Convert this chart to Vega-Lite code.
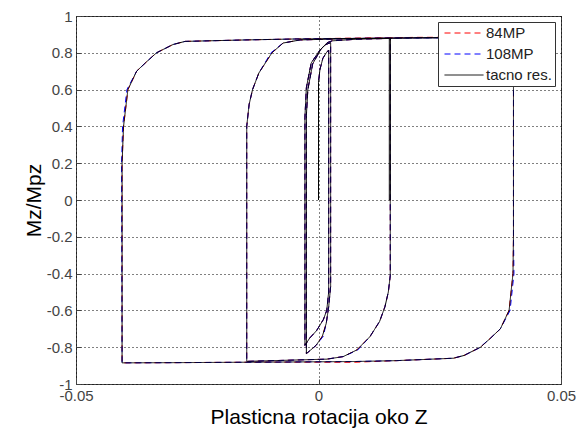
{
"$schema":"https://vega.github.io/schema/vega-lite/v6.json",
"width":485,"height":368,
"autosize":"none",
"padding":{"left":76,"top":16,"right":16,"bottom":44},
"background":"white",
"config":{
 "font":"Liberation Sans",
 "view":{"stroke":"#444","strokeWidth":1},
 "axis":{"labelFont":"Liberation Sans","labelFontSize":15,"labelColor":"#444","titleFont":"Liberation Sans","titleFontSize":21,"titleFontWeight":"normal","titleColor":"#000","domain":false,"tickColor":"#444","tickSize":-5,"grid":true,"gridColor":"#000","gridDash":[1,3],"gridOpacity":1,"gridWidth":1,"labelFlush":false,"labelOverlap":false},
 "legend":{"orient":"top-right","offset":6,"fillColor":"white","strokeColor":"#333","padding":3,"symbolType":"M-2.6,0H2.6","symbolSize":225,"symbolOffset":15,"symbolStrokeWidth":1,"labelFont":"Liberation Sans","labelFontSize":15,"labelColor":"#222","rowPadding":5,"labelOffset":14}
},
"data":{"values":[
{"s":"tacno res.","i":1,"x":0,"y":0},{"s":"tacno res.","i":2,"x":0,"y":0.64},{"s":"tacno res.","i":3,"x":0.0003,"y":0.71},{"s":"tacno res.","i":4,"x":0.0009,"y":0.77},{"s":"tacno res.","i":5,"x":0.0016,"y":0.8},{"s":"tacno res.","i":6,"x":0.0021,"y":0.815},{"s":"tacno res.","i":7,"x":0.0021,"y":-0.5},{"s":"tacno res.","i":8,"x":0.0017,"y":-0.6},{"s":"tacno res.","i":9,"x":0.001,"y":-0.65},{"s":"tacno res.","i":10,"x":-0.0004,"y":-0.71},{"s":"tacno res.","i":11,"x":-0.0018,"y":-0.75},{"s":"tacno res.","i":12,"x":-0.0028,"y":-0.79},{"s":"tacno res.","i":13,"x":-0.0028,"y":0.45},{"s":"tacno res.","i":14,"x":-0.0025,"y":0.61},{"s":"tacno res.","i":15,"x":-0.0015,"y":0.745},{"s":"tacno res.","i":16,"x":0.0003,"y":0.815},{"s":"tacno res.","i":17,"x":0.0015,"y":0.845},{"s":"tacno res.","i":18,"x":0.0025,"y":0.855},{"s":"tacno res.","i":19,"x":0.0025,"y":-0.47},{"s":"tacno res.","i":20,"x":0.0021,"y":-0.58},{"s":"tacno res.","i":21,"x":0.0016,"y":-0.67},{"s":"tacno res.","i":22,"x":0.0008,"y":-0.74},{"s":"tacno res.","i":23,"x":-0.0005,"y":-0.79},{"s":"tacno res.","i":24,"x":-0.0016,"y":-0.815},{"s":"tacno res.","i":25,"x":-0.0025,"y":-0.835},{"s":"tacno res.","i":26,"x":-0.0025,"y":0.46},{"s":"tacno res.","i":27,"x":-0.0022,"y":0.6},{"s":"tacno res.","i":28,"x":-0.0012,"y":0.74},{"s":"tacno res.","i":29,"x":0.0005,"y":0.82},{"s":"tacno res.","i":30,"x":0.0018,"y":0.855},{"s":"tacno res.","i":31,"x":0.0028,"y":0.865},{"s":"tacno res.","i":32,"x":0.008,"y":0.874},{"s":"tacno res.","i":33,"x":0.0146,"y":0.878},{"s":"tacno res.","i":34,"x":0.0146,"y":0},{"s":"tacno res.","i":35,"x":0.0148,"y":0},{"s":"tacno res.","i":36,"x":0.0148,"y":0.878},{"s":"tacno res.","i":37,"x":0.0148,"y":-0.41},{"s":"tacno res.","i":38,"x":0.0144,"y":-0.5},{"s":"tacno res.","i":39,"x":0.0137,"y":-0.58},{"s":"tacno res.","i":40,"x":0.0126,"y":-0.66},{"s":"tacno res.","i":41,"x":0.0106,"y":-0.743},{"s":"tacno res.","i":42,"x":0.0079,"y":-0.815},{"s":"tacno res.","i":43,"x":0.0051,"y":-0.851},{"s":"tacno res.","i":44,"x":0.0017,"y":-0.865},{"s":"tacno res.","i":45,"x":-0.0024,"y":-0.868},{"s":"tacno res.","i":46,"x":-0.0079,"y":-0.872},{"s":"tacno res.","i":47,"x":-0.0148,"y":-0.877},{"s":"tacno res.","i":48,"x":-0.0148,"y":0.4},{"s":"tacno res.","i":49,"x":-0.0143,"y":0.52},{"s":"tacno res.","i":50,"x":-0.0136,"y":0.6},{"s":"tacno res.","i":51,"x":-0.0123,"y":0.69},{"s":"tacno res.","i":52,"x":-0.0096,"y":0.8},{"s":"tacno res.","i":53,"x":-0.0073,"y":0.853},{"s":"tacno res.","i":54,"x":-0.0038,"y":0.87},{"s":"tacno res.","i":55,"x":0.005,"y":0.876},{"s":"tacno res.","i":56,"x":0.02,"y":0.881},{"s":"tacno res.","i":57,"x":0.0402,"y":0.885},{"s":"tacno res.","i":58,"x":0.0402,"y":-0.2},{"s":"tacno res.","i":59,"x":0.0401,"y":-0.4},{"s":"tacno res.","i":60,"x":0.0393,"y":-0.6},{"s":"tacno res.","i":61,"x":0.0375,"y":-0.7},{"s":"tacno res.","i":62,"x":0.0355,"y":-0.75},{"s":"tacno res.","i":63,"x":0.0334,"y":-0.8},{"s":"tacno res.","i":64,"x":0.03,"y":-0.845},{"s":"tacno res.","i":65,"x":0.0278,"y":-0.86},{"s":"tacno res.","i":66,"x":0.0161,"y":-0.873},{"s":"tacno res.","i":67,"x":0.0072,"y":-0.878},{"s":"tacno res.","i":68,"x":-0.01,"y":-0.881},{"s":"tacno res.","i":69,"x":-0.03,"y":-0.884},{"s":"tacno res.","i":70,"x":-0.0405,"y":-0.885},{"s":"tacno res.","i":71,"x":-0.0405,"y":0.2},{"s":"tacno res.","i":72,"x":-0.0402,"y":0.4},{"s":"tacno res.","i":73,"x":-0.0393,"y":0.6},{"s":"tacno res.","i":74,"x":-0.0375,"y":0.7},{"s":"tacno res.","i":75,"x":-0.0355,"y":0.75},{"s":"tacno res.","i":76,"x":-0.0334,"y":0.8},{"s":"tacno res.","i":77,"x":-0.03,"y":0.845},{"s":"tacno res.","i":78,"x":-0.0275,"y":0.862},{"s":"tacno res.","i":79,"x":-0.015,"y":0.87},{"s":"tacno res.","i":80,"x":-0.005,"y":0.875},{"s":"tacno res.","i":81,"x":0.01,"y":0.879},{"s":"tacno res.","i":82,"x":0.0402,"y":0.885},
{"s":"108MP","i":1,"x":0,"y":0},{"s":"108MP","i":2,"x":0,"y":0.64},{"s":"108MP","i":3,"x":0.0003,"y":0.71},{"s":"108MP","i":4,"x":0.0009,"y":0.77},{"s":"108MP","i":5,"x":0.0016,"y":0.8},{"s":"108MP","i":6,"x":0.0021,"y":0.815},{"s":"108MP","i":7,"x":0.0021,"y":-0.5},{"s":"108MP","i":8,"x":0.0017,"y":-0.6},{"s":"108MP","i":9,"x":0.001,"y":-0.65},{"s":"108MP","i":10,"x":-0.0004,"y":-0.71},{"s":"108MP","i":11,"x":-0.0018,"y":-0.75},{"s":"108MP","i":12,"x":-0.0028,"y":-0.79},{"s":"108MP","i":13,"x":-0.0028,"y":0.45},{"s":"108MP","i":14,"x":-0.0025,"y":0.61},{"s":"108MP","i":15,"x":-0.0015,"y":0.745},{"s":"108MP","i":16,"x":0.0003,"y":0.815},{"s":"108MP","i":17,"x":0.0015,"y":0.845},{"s":"108MP","i":18,"x":0.0025,"y":0.855},{"s":"108MP","i":19,"x":0.0025,"y":-0.47},{"s":"108MP","i":20,"x":0.0021,"y":-0.58},{"s":"108MP","i":21,"x":0.0016,"y":-0.67},{"s":"108MP","i":22,"x":0.001,"y":-0.74},{"s":"108MP","i":23,"x":-0.0005,"y":-0.79},{"s":"108MP","i":24,"x":-0.0016,"y":-0.815},{"s":"108MP","i":25,"x":-0.0025,"y":-0.835},{"s":"108MP","i":26,"x":-0.0025,"y":0.46},{"s":"108MP","i":27,"x":-0.0022,"y":0.6},{"s":"108MP","i":28,"x":-0.0012,"y":0.74},{"s":"108MP","i":29,"x":0.0005,"y":0.82},{"s":"108MP","i":30,"x":0.0018,"y":0.855},{"s":"108MP","i":31,"x":0.0028,"y":0.865},{"s":"108MP","i":32,"x":0.008,"y":0.874},{"s":"108MP","i":33,"x":0.0146,"y":0.878},{"s":"108MP","i":34,"x":0.0148,"y":0.878},{"s":"108MP","i":35,"x":0.0148,"y":-0.41},{"s":"108MP","i":36,"x":0.0144,"y":-0.5},{"s":"108MP","i":37,"x":0.0137,"y":-0.58},{"s":"108MP","i":38,"x":0.0126,"y":-0.66},{"s":"108MP","i":39,"x":0.0106,"y":-0.743},{"s":"108MP","i":40,"x":0.0081,"y":-0.815},{"s":"108MP","i":41,"x":0.0051,"y":-0.851},{"s":"108MP","i":42,"x":0.0017,"y":-0.865},{"s":"108MP","i":43,"x":-0.0024,"y":-0.868},{"s":"108MP","i":44,"x":-0.0079,"y":-0.872},{"s":"108MP","i":45,"x":-0.0148,"y":-0.877},{"s":"108MP","i":46,"x":-0.0148,"y":0.4},{"s":"108MP","i":47,"x":-0.0143,"y":0.52},{"s":"108MP","i":48,"x":-0.0136,"y":0.6},{"s":"108MP","i":49,"x":-0.0123,"y":0.69},{"s":"108MP","i":50,"x":-0.0098,"y":0.8},{"s":"108MP","i":51,"x":-0.0073,"y":0.853},{"s":"108MP","i":52,"x":-0.0038,"y":0.87},{"s":"108MP","i":53,"x":0.005,"y":0.876},{"s":"108MP","i":54,"x":0.02,"y":0.881},{"s":"108MP","i":55,"x":0.0402,"y":0.885},{"s":"108MP","i":56,"x":0.0402,"y":-0.2},{"s":"108MP","i":57,"x":0.0403,"y":-0.4},{"s":"108MP","i":58,"x":0.0395,"y":-0.6},{"s":"108MP","i":59,"x":0.0375,"y":-0.7},{"s":"108MP","i":60,"x":0.0355,"y":-0.75},{"s":"108MP","i":61,"x":0.0332,"y":-0.803},{"s":"108MP","i":62,"x":0.03,"y":-0.845},{"s":"108MP","i":63,"x":0.0278,"y":-0.86},{"s":"108MP","i":64,"x":0.0161,"y":-0.873},{"s":"108MP","i":65,"x":0.0072,"y":-0.878},{"s":"108MP","i":66,"x":-0.01,"y":-0.881},{"s":"108MP","i":67,"x":-0.03,"y":-0.884},{"s":"108MP","i":68,"x":-0.0405,"y":-0.885},{"s":"108MP","i":69,"x":-0.0406,"y":0.2},{"s":"108MP","i":70,"x":-0.0404,"y":0.4},{"s":"108MP","i":71,"x":-0.0395,"y":0.6},{"s":"108MP","i":72,"x":-0.0375,"y":0.7},{"s":"108MP","i":73,"x":-0.0355,"y":0.75},{"s":"108MP","i":74,"x":-0.0334,"y":0.8},{"s":"108MP","i":75,"x":-0.03,"y":0.845},{"s":"108MP","i":76,"x":-0.0275,"y":0.862},{"s":"108MP","i":77,"x":-0.015,"y":0.87},{"s":"108MP","i":78,"x":-0.005,"y":0.875},{"s":"108MP","i":79,"x":0.01,"y":0.879},{"s":"108MP","i":80,"x":0.0402,"y":0.885},
{"s":"84MP","i":1,"x":0,"y":0},{"s":"84MP","i":2,"x":0,"y":0.64},{"s":"84MP","i":3,"x":0.0003,"y":0.71},{"s":"84MP","i":4,"x":0.0009,"y":0.77},{"s":"84MP","i":5,"x":0.0016,"y":0.8},{"s":"84MP","i":6,"x":0.0021,"y":0.815},{"s":"84MP","i":7,"x":0.0021,"y":-0.5},{"s":"84MP","i":8,"x":0.0017,"y":-0.6},{"s":"84MP","i":9,"x":0.001,"y":-0.65},{"s":"84MP","i":10,"x":-0.0004,"y":-0.71},{"s":"84MP","i":11,"x":-0.0018,"y":-0.75},{"s":"84MP","i":12,"x":-0.0028,"y":-0.79},{"s":"84MP","i":13,"x":-0.0028,"y":0.45},{"s":"84MP","i":14,"x":-0.0025,"y":0.61},{"s":"84MP","i":15,"x":-0.0015,"y":0.745},{"s":"84MP","i":16,"x":0.0003,"y":0.815},{"s":"84MP","i":17,"x":0.0015,"y":0.845},{"s":"84MP","i":18,"x":0.0025,"y":0.855},{"s":"84MP","i":19,"x":0.0025,"y":-0.47},{"s":"84MP","i":20,"x":0.0021,"y":-0.58},{"s":"84MP","i":21,"x":0.0016,"y":-0.67},{"s":"84MP","i":22,"x":0.0008,"y":-0.74},{"s":"84MP","i":23,"x":-0.0005,"y":-0.79},{"s":"84MP","i":24,"x":-0.0016,"y":-0.815},{"s":"84MP","i":25,"x":-0.0025,"y":-0.835},{"s":"84MP","i":26,"x":-0.0025,"y":0.46},{"s":"84MP","i":27,"x":-0.0022,"y":0.6},{"s":"84MP","i":28,"x":-0.0012,"y":0.74},{"s":"84MP","i":29,"x":0.0005,"y":0.82},{"s":"84MP","i":30,"x":0.0018,"y":0.855},{"s":"84MP","i":31,"x":0.0028,"y":0.865},{"s":"84MP","i":32,"x":0.008,"y":0.874},{"s":"84MP","i":33,"x":0.0146,"y":0.878},{"s":"84MP","i":34,"x":0.0148,"y":0.878},{"s":"84MP","i":35,"x":0.0148,"y":-0.41},{"s":"84MP","i":36,"x":0.0144,"y":-0.5},{"s":"84MP","i":37,"x":0.0137,"y":-0.58},{"s":"84MP","i":38,"x":0.0126,"y":-0.66},{"s":"84MP","i":39,"x":0.0106,"y":-0.743},{"s":"84MP","i":40,"x":0.0079,"y":-0.815},{"s":"84MP","i":41,"x":0.0051,"y":-0.851},{"s":"84MP","i":42,"x":0.0017,"y":-0.865},{"s":"84MP","i":43,"x":-0.0024,"y":-0.868},{"s":"84MP","i":44,"x":-0.0079,"y":-0.872},{"s":"84MP","i":45,"x":-0.0148,"y":-0.877},{"s":"84MP","i":46,"x":-0.0148,"y":0.4},{"s":"84MP","i":47,"x":-0.0143,"y":0.52},{"s":"84MP","i":48,"x":-0.0136,"y":0.6},{"s":"84MP","i":49,"x":-0.0123,"y":0.69},{"s":"84MP","i":50,"x":-0.0096,"y":0.8},{"s":"84MP","i":51,"x":-0.0073,"y":0.853},{"s":"84MP","i":52,"x":-0.0038,"y":0.87},{"s":"84MP","i":53,"x":0.005,"y":0.876},{"s":"84MP","i":54,"x":0.02,"y":0.884},{"s":"84MP","i":55,"x":0.0402,"y":0.885},{"s":"84MP","i":56,"x":0.0402,"y":-0.2},{"s":"84MP","i":57,"x":0.0401,"y":-0.4},{"s":"84MP","i":58,"x":0.0393,"y":-0.6},{"s":"84MP","i":59,"x":0.0375,"y":-0.7},{"s":"84MP","i":60,"x":0.0355,"y":-0.75},{"s":"84MP","i":61,"x":0.0334,"y":-0.8},{"s":"84MP","i":62,"x":0.03,"y":-0.845},{"s":"84MP","i":63,"x":0.0278,"y":-0.86},{"s":"84MP","i":64,"x":0.0161,"y":-0.873},{"s":"84MP","i":65,"x":0.0072,"y":-0.882},{"s":"84MP","i":66,"x":-0.01,"y":-0.881},{"s":"84MP","i":67,"x":-0.03,"y":-0.884},{"s":"84MP","i":68,"x":-0.0405,"y":-0.885},{"s":"84MP","i":69,"x":-0.0405,"y":0.2},{"s":"84MP","i":70,"x":-0.0402,"y":0.4},{"s":"84MP","i":71,"x":-0.0393,"y":0.6},{"s":"84MP","i":72,"x":-0.0375,"y":0.7},{"s":"84MP","i":73,"x":-0.0355,"y":0.75},{"s":"84MP","i":74,"x":-0.0334,"y":0.8},{"s":"84MP","i":75,"x":-0.03,"y":0.845},{"s":"84MP","i":76,"x":-0.0275,"y":0.862},{"s":"84MP","i":77,"x":-0.015,"y":0.87},{"s":"84MP","i":78,"x":-0.005,"y":0.875},{"s":"84MP","i":79,"x":0.01,"y":0.881},{"s":"84MP","i":80,"x":0.0402,"y":0.885}
]},
"encoding":{
 "x":{"field":"x","type":"quantitative","scale":{"domain":[-0.05,0.05],"nice":false,"zero":false},"axis":{"values":[-0.05,0,0.05],"title":"Plasticna rotacija oko Z","labelExpr":"replace(format(datum.value,'~g'),'−','-')","labelPadding":9,"titlePadding":3}},
 "y":{"field":"y","type":"quantitative","scale":{"domain":[-1,1],"nice":false,"zero":false},"axis":{"values":[-1,-0.8,-0.6,-0.4,-0.2,0,0.2,0.4,0.6,0.8,1],"title":"Mz/Mpz","labelExpr":"replace(format(datum.value,'~g'),'−','-')","labelPadding":9,"titlePadding":2}},
 "order":{"field":"i","type":"quantitative"},
 "color":{"field":"s","type":"nominal","scale":{"domain":["84MP","108MP","tacno res."],"range":["#ff0000","#0000ff","#000000"]},"legend":{"title":null}},
 "strokeDash":{"field":"s","type":"nominal","scale":{"domain":["84MP","108MP","tacno res."],"range":[[6,4],[6,4],[1,0]]},"legend":{"title":null}}
},
"layer":[
 {"transform":[{"filter":"datum.s==='84MP'"}],"mark":{"type":"line","strokeWidth":1}},
 {"transform":[{"filter":"datum.s==='108MP'"}],"mark":{"type":"line","strokeWidth":1}},
 {"transform":[{"filter":"datum.s==='tacno res.'"}],"mark":{"type":"line","strokeWidth":1}}
]
}
